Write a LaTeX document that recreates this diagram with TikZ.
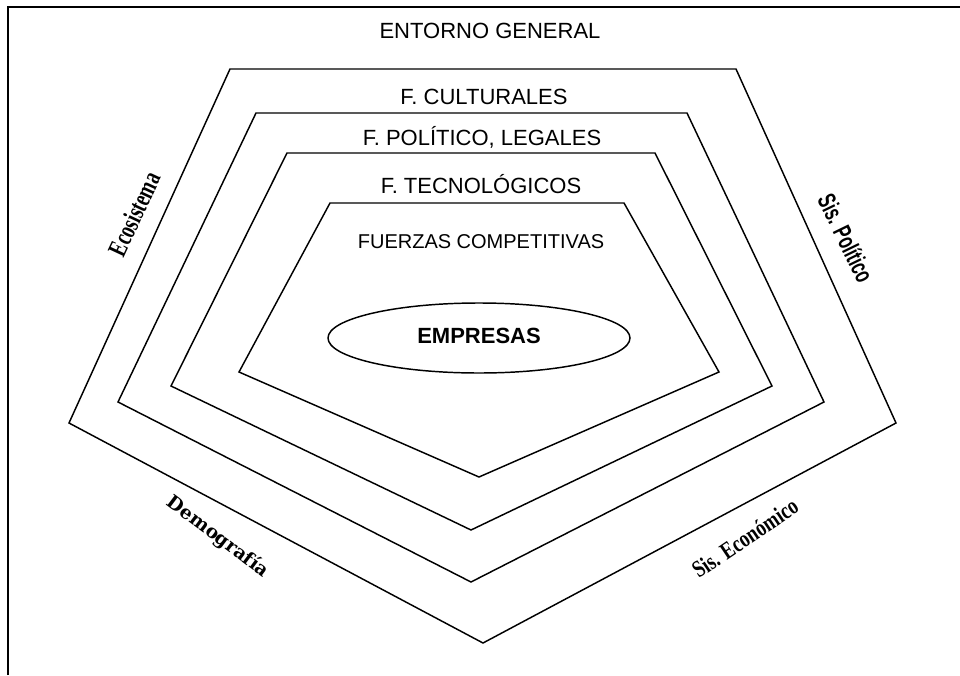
\documentclass[tikz,border=0pt]{standalone}
\usepackage{fontspec}
\setmainfont{Liberation Sans}
\newfontfamily\ecofont[FakeStretch=0.7]{Liberation Serif}
\newfontfamily\polfont[FakeStretch=0.65]{Liberation Sans}
\newfontfamily\demfont{DejaVu Serif}
\newfontfamily\econfont[FakeStretch=0.78]{Liberation Serif}
\usetikzlibrary{shapes.geometric}
\begin{document}
\begin{tikzpicture}[x=0.75pt,y=-0.75pt,
  ring/.style={draw=black,line width=1.1pt,line join=miter},
  lbl/.style={font=\fontsize{16.5}{19}\selectfont,anchor=base,inner sep=0pt},
  side/.style={inner sep=0pt}]
\useasboundingbox (0,0) rectangle (960,675);
% frame (cropped)
\draw[line width=1pt] (8,675) -- (8,7) -- (960,7);
% pentagons
\draw[ring] (230,69) -- (736,69) -- (896,423) -- (483,643) -- (69,423) -- cycle;
\draw[ring] (256,113) -- (687,113) -- (824,402) -- (471,582) -- (118,402) -- cycle;
\draw[ring] (287,153) -- (655,153) -- (772,386) -- (471,530) -- (171,386) -- cycle;
\draw[ring] (330,203) -- (624,203) -- (719,372) -- (479,477) -- (239,372) -- cycle;
% ellipse
\node[ellipse,draw,line width=1.1pt,inner sep=0pt,
  minimum width=226.5pt,minimum height=52.5pt] (emp) at (479,338) {};
\node[lbl,font=\fontsize{16.5}{19}\selectfont\bfseries] (empt) at (479,343) {EMPRESAS};
% layer labels
\node[lbl] (eg) at (490,38) {ENTORNO GENERAL};
\node[lbl] (fc) at (484,104) {F. CULTURALES};
\node[lbl] (fp) at (482,145) {F. POLÍTICO, LEGALES};
\node[lbl] (ft) at (481,193) {F. TECNOLÓGICOS};
\node[lbl,font=\fontsize{15}{18}\selectfont] (fz) at (481,248) {FUERZAS COMPETITIVAS};
% side labels
\node[side,rotate=65,font=\ecofont\fontsize{20}{22}\selectfont\bfseries] (eco) at (134,214) {Ecosistema};
\node[side,rotate=-64,font=\polfont\fontsize{19}{21}\selectfont\bfseries] (pol) at (846,238) {Sis. Político};
\node[side,rotate=-37,font=\demfont\fontsize{14}{16}\selectfont\bfseries] (dem) at (218,537) {Demografía};
\node[side,rotate=34,font=\econfont\fontsize{18}{20}\selectfont\bfseries] (econ) at (745,538) {Sis. Económico};
\end{tikzpicture}
\end{document}
